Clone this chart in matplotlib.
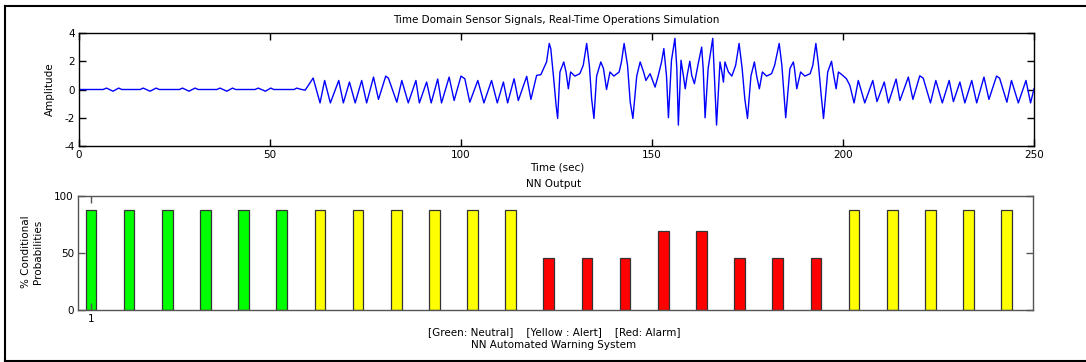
import matplotlib
matplotlib.use('Agg')
import matplotlib.pyplot as plt
from matplotlib.lines import Line2D

plt.rcParams['font.family'] = 'DejaVu Sans'
plt.rcParams['axes.unicode_minus'] = False

# sensor signal, vertices (time in s, amplitude)
t_pts = [0, 6.3, 7.2, 8.9, 10.4, 11.2,
         16.0, 16.8, 18.6, 20.2, 21.0,
         26.3, 27.1, 28.8, 30.4, 31.2,
         36.1, 36.9, 38.7, 40.2, 41.0,
         46.1, 46.9, 48.8, 50.2, 51.0,
         56.3, 57.0, 58.0, 59.2,
         61.3, 63.1, 64.3, 65.8, 68.0, 69.2, 70.8, 72.3, 74.0, 75.3,
         77.1, 78.4, 80.3, 81.0, 83.2, 84.5, 86.2, 88.2, 89.1, 91.0,
         92.2, 93.9, 94.9, 96.9, 98.2, 100.0, 101.0, 102.3, 104.4, 106.0,
         108.0, 109.5, 111.1, 112.2, 113.9, 115.0, 117.2, 118.3, 119.8, 120.9,
         122.0, 122.4, 123.1, 123.5, 124.2, 124.9, 125.3, 125.9, 126.9, 127.5,
         128.1, 128.7, 129.8, 131.1, 132.0, 132.9, 133.6, 134.2, 134.8, 135.5,
         136.6, 137.3, 138.1, 139.0, 140.0, 141.4, 142.0, 142.7, 143.6, 144.3,
         145.0, 146.0, 146.9, 147.8, 148.4, 149.5, 150.8, 151.6, 152.5, 153.1,
         153.8, 154.3, 155.1, 156.0, 156.5, 156.9, 157.6, 158.2, 158.7, 159.2,
         159.9, 160.4, 161.1, 162.1, 163.0, 163.4, 163.9, 164.7, 165.9, 166.4,
         166.9, 167.8, 168.3, 168.7, 169.1, 170.0, 170.9, 171.9, 172.8, 173.6,
         174.3, 175.0, 175.9, 176.8, 177.4, 178.1, 178.9, 180.0, 181.3, 182.1,
         183.3, 184.0, 184.7, 185.0, 186.1, 187.0, 187.3, 187.9, 188.9, 190.0,
         191.4, 192.1, 192.9, 193.6, 194.3, 194.9, 196.0, 197.0, 197.5, 198.2,
         198.8, 199.7, 200.9, 201.8, 202.9, 204.0, 205.7, 207.8, 208.9, 210.8,
         211.9, 213.9, 214.9, 217.1, 218.3, 220.1, 221.0, 222.9, 224.3, 226.0,
         227.8, 228.9, 230.6, 231.9, 233.7, 235.0, 236.9, 238.2, 240.2, 241.0,
         242.9, 244.1, 245.9, 247.9, 249.1, 250.0]
amp_pts = [0, 0, 0.1, -0.12, 0.1, 0,
           0, 0.1, -0.12, 0.1, 0,
           0, 0.1, -0.12, 0.1, 0,
           0, 0.1, -0.12, 0.1, 0,
           0, 0.1, -0.12, 0.1, 0,
           0, 0.1, 0.02, -0.05,
           0.81, -0.95, 0.64, -0.95, 0.64, -0.95, 0.53, -0.95, 0.64, -0.95,
           0.88, -0.7, 0.95, 0.8, -0.9, 0.64, -0.95, 0.64, -0.95, 0.53,
           -0.95, 0.74, -0.95, 0.88, -0.78, 0.95, 0.76, -0.9, 0.64, -0.95,
           0.64, -0.95, 0.53, -0.95, 0.76, -0.78, 0.93, -0.7, 1.0, 1.05,
           1.7, 1.95, 3.26, 2.9, 0.95, -1.14, -2.05, 1.24, 1.95, 1.24,
           0.05, 1.24, 0.95, 1.12, 1.71, 3.26, 1.7, -0.67, -2.05, 0.95,
           1.95, 1.48, 0.0, 1.24, 0.95, 1.24, 1.95, 3.26, 1.7, -0.9,
           -2.05, 0.95, 1.95, 1.24, 0.64, 1.12, 0.17, 0.95, 1.95, 2.9,
           0.95, -2.0, 2.07, 3.62, 1.5, -2.52, 2.07, 1.0, 0.05, 1.0,
           2.0, 1.0, 0.41, 1.83, 3.0, 1.48, -2.0, 1.5, 3.62, 0.5,
           -2.52, 1.95, 1.24, 0.52, 1.95, 1.24, 0.95, 1.71, 3.26, 1.48,
           -0.67, -2.05, 0.95, 1.95, 0.95, 0.05, 1.24, 0.95, 1.12, 1.71,
           3.26, 1.7, -0.9, -2.0, 1.48, 1.95, 1.48, 0.05, 1.24, 0.95,
           1.12, 1.71, 3.26, 1.7, -0.43, -2.05, 1.24, 2.0, 1.12, 0.05,
           1.24, 1.05, 0.76, 0.29, -0.95, 0.64, -0.95, 0.64, -0.86, 0.53,
           -0.95, 0.74, -0.78, 0.88, -0.7, 0.97, 0.8, -0.95, 0.64, -0.95,
           0.64, -0.86, 0.53, -0.95, 0.64, -0.95, 0.88, -0.7, 0.95, 0.8,
           -0.9, 0.64, -0.95, 0.64, -0.95, 0.05]

# NN output per window
win_idx = list(range(1, 26))
prob_vals = [88, 88, 88, 88, 88, 88,
             88, 88, 88, 88, 88, 88,
             46, 46, 46, 69, 69, 46, 46, 46,
             88, 88, 88, 88, 88]
win_state = ['Neutral'] * 6 + ['Alert'] * 6 + ['Alarm'] * 8 + ['Alert'] * 5
state_color = {'Neutral': '#00ff00', 'Alert': '#ffff00', 'Alarm': '#ff0000'}

W, H = 1086, 362
fig = plt.figure(figsize=(W / 100, H / 100), dpi=100)


def fx(px):
    return px / W


def fy(py):
    return 1 - py / H


fs = 7.5

# top: time signal
ax1 = fig.add_axes([fx(79), fy(146), fx(1034) - fx(79), fy(33) - fy(146)])
ax1.plot(t_pts, amp_pts, color='#0000ff', lw=1.0)
ax1.set_xlim(0, 250)
ax1.set_ylim(-4, 4)
ax1.set_xticks([0, 50, 100, 150, 200, 250])
ax1.set_yticks([-4, -2, 0, 2, 4])
ax1.tick_params(direction='in', length=5, width=1, top=True, right=True,
                labelsize=fs, pad=3)
for s in ax1.spines.values():
    s.set_linewidth(1)

# bottom: NN output bars
ax2 = fig.add_axes([fx(78), fy(310), fx(1033) - fx(78), fy(196) - fy(310)])
ax2.bar(win_idx, prob_vals, width=0.28,
        color=[state_color[s] for s in win_state],
        edgecolor='#333333', linewidth=0.9)
ax2.set_xlim(0.66, 25.69)
ax2.set_ylim(0, 100)
ax2.set_xticks([1])
ax2.set_yticks([0, 50, 100])
ax2.tick_params(direction='in', length=5, width=1, top=True, right=True,
                labelsize=fs, pad=3, color='#555555')
for s in ax2.spines.values():
    s.set_linewidth(1)
    s.set_color('#555555')

# texts
fig.text(fx(556), fy(20), 'Time Domain Sensor Signals, Real-Time Operations Simulation',
         ha='center', va='center', fontsize=fs)
fig.text(fx(50), fy(89), 'Amplitude', rotation=90, ha='center', va='center', fontsize=fs)
fig.text(fx(557), fy(168), 'Time (sec)', ha='center', va='center', fontsize=fs)
fig.text(fx(554), fy(184), 'NN Output', ha='center', va='center', fontsize=fs)
fig.text(fx(32), fy(252), '% Conditional\nProbabilities', rotation=90,
         ha='center', va='center', fontsize=fs, multialignment='center', linespacing=1.2)
fig.text(fx(554), fy(332), '[Green: Neutral]    [Yellow : Alert]    [Red: Alarm]',
         ha='center', va='center', fontsize=fs)
fig.text(fx(554), fy(345), 'NN Automated Warning System',
         ha='center', va='center', fontsize=fs)

# outer frame
for xs, ys in [([fx(5), 1], [fy(6), fy(6)]),
               ([fx(5), fx(5)], [fy(6), fy(360.5)]),
               ([fx(5), 1], [fy(360.5), fy(360.5)])]:
    fig.add_artist(Line2D(xs, ys, transform=fig.transFigure, color='black', lw=1.5))

fig.savefig('out.png', dpi=100)
